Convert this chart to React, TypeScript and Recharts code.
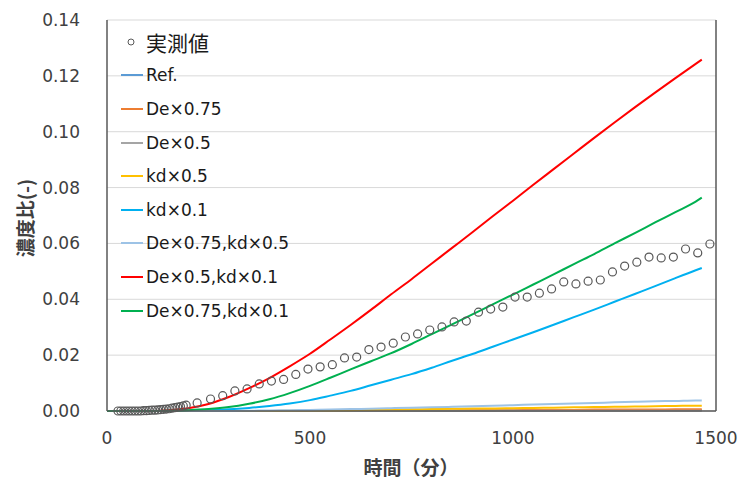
import { ComposedChart, Line, Scatter, XAxis, YAxis, CartesianGrid, Legend, ReferenceLine, Label } from 'recharts'

// model output times (min)
const modelTimes = [0, 50, 100, 150, 200, 250, 300, 350, 400, 450, 500, 550, 600, 650, 700, 750, 800, 850, 900, 950, 1000, 1050, 1100, 1150, 1200, 1250, 1300, 1350, 1400, 1450, 1465]

const refVals = [0, 0, 0, 0, 0, 0, 0, 0, 0, 0, 0, 0, 0, 0, 0.0001, 0.0001, 0.0001, 0.0001, 0.0001, 0.0002, 0.0002, 0.0002, 0.0002, 0.0003, 0.0003, 0.0003, 0.0003, 0.0003, 0.0004, 0.0004, 0.0004]
const de075Vals = [0, 0, 0, 0, 0, 0, 0, 0, 0, 0, 0, 0, 0.0001, 0.0001, 0.0001, 0.0002, 0.0002, 0.0002, 0.0003, 0.0003, 0.0003, 0.0004, 0.0004, 0.0004, 0.0005, 0.0005, 0.0005, 0.0005, 0.0006, 0.0006, 0.0006]
const de05Vals = [0, 0, 0, 0, 0, 0, 0, 0, 0, 0, 0, 0, 0, 0, 0, 0, 0, 0, 0, 0, 0.0001, 0.0001, 0.0001, 0.0001, 0.0001, 0.0001, 0.0001, 0.0001, 0.0001, 0.0001, 0.0001]
const kd05Vals = [0, 0, 0, 0, 0, 0, 0, 0, 0, 0.0001, 0.0002, 0.0002, 0.0003, 0.0004, 0.0005, 0.0006, 0.0007, 0.0008, 0.0009, 0.0009, 0.0010, 0.0011, 0.0012, 0.0013, 0.0014, 0.0015, 0.0016, 0.0017, 0.0018, 0.0019, 0.0019]
const kd01Vals = [0, 0, 0, 0, 0.0001, 0.0003, 0.0006, 0.0011, 0.0018, 0.0027, 0.0039, 0.0055, 0.0072, 0.0092, 0.0112, 0.0132, 0.0155, 0.0180, 0.0204, 0.0230, 0.0256, 0.0282, 0.0309, 0.0336, 0.0363, 0.0391, 0.0419, 0.0447, 0.0476, 0.0504, 0.0512]
const de075kd05Vals = [0, 0, 0, 0, 0, 0, 0, 0.0001, 0.0002, 0.0003, 0.0004, 0.0005, 0.0007, 0.0008, 0.0010, 0.0012, 0.0013, 0.0015, 0.0017, 0.0019, 0.0021, 0.0023, 0.0025, 0.0027, 0.0029, 0.0031, 0.0033, 0.0035, 0.0036, 0.0038, 0.0038]
const de05kd01Vals = [0, 0, 0, 0.0003, 0.0010, 0.0025, 0.0050, 0.0082, 0.0118, 0.0160, 0.0205, 0.0256, 0.0308, 0.0362, 0.0418, 0.0472, 0.0528, 0.0584, 0.0640, 0.0697, 0.0753, 0.0810, 0.0866, 0.0922, 0.0978, 0.1033, 0.1087, 0.1140, 0.1192, 0.1243, 0.1258]
const de075kd01Vals = [0, 0, 0, 0.0001, 0.0003, 0.0007, 0.0014, 0.0026, 0.0042, 0.0064, 0.0090, 0.0119, 0.0149, 0.0178, 0.0207, 0.0240, 0.0275, 0.0310, 0.0346, 0.0382, 0.0417, 0.0453, 0.0489, 0.0526, 0.0562, 0.0600, 0.0637, 0.0675, 0.0712, 0.0750, 0.0764]

// measured values
const obsTimes = [27, 34, 41, 48, 55, 62, 69, 76, 83, 90, 97, 104, 111, 118, 125, 132, 139, 146, 153, 160, 167, 174, 181, 188, 195, 222,
  255, 285, 315, 345, 375, 405, 435, 465, 495, 525, 555, 585, 615, 645, 675, 705, 735, 765, 795, 825, 855, 885, 915, 945, 975,
  1005, 1035, 1065, 1095, 1125, 1155, 1185, 1215, 1245, 1275, 1305, 1335, 1365, 1395, 1425, 1455, 1485]
const obsVals = [0, 0, 0, 0, 0, 0, 0, 0, 0, 0.0001, 0.0001, 0.0002, 0.0003, 0.0003, 0.0004, 0.0005, 0.0006, 0.0007, 0.0008, 0.0010, 0.0012, 0.0014, 0.0016, 0.0018, 0.0021, 0.0029,
  0.0043, 0.0055, 0.0072, 0.0079, 0.0097, 0.0107, 0.0113, 0.0131, 0.0150, 0.0158, 0.0166, 0.0190, 0.0193, 0.0220, 0.0229, 0.0243, 0.0265, 0.0276, 0.0290, 0.0301, 0.0319, 0.0322, 0.0354, 0.0365, 0.0372,
  0.0408, 0.0408, 0.0422, 0.0437, 0.0462, 0.0455, 0.0465, 0.0469, 0.0498, 0.0519, 0.0533, 0.0551, 0.0548, 0.0551, 0.0580, 0.0566, 0.0598]

const xTicks = [0, 500, 1000, 1500]
const yTicks = [0, 0.02, 0.04, 0.06, 0.08, 0.1, 0.12, 0.14]

const series = [
  { key: 'ref', name: 'Ref.', color: '#5B9BD5', values: refVals },
  { key: 'de075', name: 'De×0.75', color: '#ED7D31', values: de075Vals },
  { key: 'de05', name: 'De×0.5', color: '#A5A5A5', values: de05Vals },
  { key: 'kd05', name: 'kd×0.5', color: '#FFC000', values: kd05Vals },
  { key: 'kd01', name: 'kd×0.1', color: '#00B0F0', values: kd01Vals },
  { key: 'de075kd05', name: 'De×0.75,kd×0.5', color: '#9DC3E6', values: de075kd05Vals },
  { key: 'de05kd01', name: 'De×0.5,kd×0.1', color: '#FF0000', values: de05kd01Vals },
  { key: 'de075kd01', name: 'De×0.75,kd×0.1', color: '#00B050', values: de075kd01Vals },
]

const modelData = modelTimes.map((t, i) => {
  const row: any = { t }
  series.forEach(s => { row[s.key] = s.values[i] })
  return row
})
const obsData = obsTimes.map((t, i) => ({ t, v: obsVals[i] }))

const FONT = '"DejaVu Sans", sans-serif'
const tickStyle = { fill: '#404040', fontSize: 17, fontFamily: FONT }

const renderLegend = () => (
  <div style={{ fontFamily: FONT, fontSize: 17, color: '#1a1a1a' }}>
    <div style={{ height: 33.6, display: 'flex', alignItems: 'center' }}>
      <svg width={26} height={12}><circle cx={11} cy={6} r={3} fill="none" stroke="#595959" strokeWidth={1} /></svg>
      <span style={{ fontFamily: '"Noto Sans CJK JP", sans-serif', fontSize: 21 }}>実測値</span>
    </div>
    {series.map(s => (
      <div key={s.key} style={{ height: 33.6, display: 'flex', alignItems: 'center' }}>
        <svg width={26} height={12}><line x1={1} y1={6} x2={23} y2={6} stroke={s.color} strokeWidth={2} /></svg>
        <span>{s.name}</span>
      </div>
    ))}
  </div>
)

export default function App() {
  return (
    <div>
      <style>{'body{margin:0;background:#fff}'}</style>
      <ComposedChart width={740} height={480} margin={{ top: 20, right: 24, bottom: 0, left: 0 }}>
        <CartesianGrid vertical={false} stroke="#d9d9d9" />
        <XAxis
          dataKey="t"
          type="number"
          domain={[0, 1500]}
          ticks={xTicks}
          tick={tickStyle}
          tickLine={false}
          tickMargin={15}
          height={69}
          axisLine={{ stroke: '#595959', strokeWidth: 1.5 }}
          allowDataOverflow
        >
          <Label
            content={() => (
              <text x={411} y={466} textAnchor="middle" dominantBaseline="central" fontFamily='"Noto Sans CJK JP", sans-serif' fontWeight="bold" fontSize={19} fill="#404040">
                時間（分）
              </text>
            )}
          />
        </XAxis>
        <YAxis
          type="number"
          domain={[0, 0.14]}
          ticks={yTicks}
          tick={tickStyle}
          tickFormatter={(v: number) => v.toFixed(2)}
          tickLine={false}
          tickMargin={21}
          width={107}
          axisLine={{ stroke: '#595959', strokeWidth: 1.5 }}
        >
          <Label
            content={() => (
              <text x={24} y={218} transform="rotate(-90, 24, 218)" textAnchor="middle" dominantBaseline="central" fontFamily='"Noto Sans CJK JP", sans-serif' fontWeight="bold" fontSize={19} fill="#404040">
                濃度比(-)
              </text>
            )}
          />
        </YAxis>
        <ReferenceLine x={1500} stroke="#595959" strokeWidth={1.5} />
        <Scatter
          data={obsData}
          dataKey="v"
          name="実測値"
          isAnimationActive={false}
          shape={(p: any) => <circle cx={p.cx} cy={p.cy} r={4} fill="none" stroke="#595959" strokeWidth={1.2} />}
        />
        {series.map(s => (
          <Line
            key={s.key}
            data={modelData}
            dataKey={s.key}
            name={s.name}
            type="monotone"
            stroke={s.color}
            strokeWidth={2}
            dot={false}
            isAnimationActive={false}
          />
        ))}
        <Legend
          layout="vertical"
          align="center"
          verticalAlign="middle"
          wrapperStyle={{ top: 25, left: 120, width: 220 }}
          content={renderLegend}
        />
      </ComposedChart>
    </div>
  )
}
